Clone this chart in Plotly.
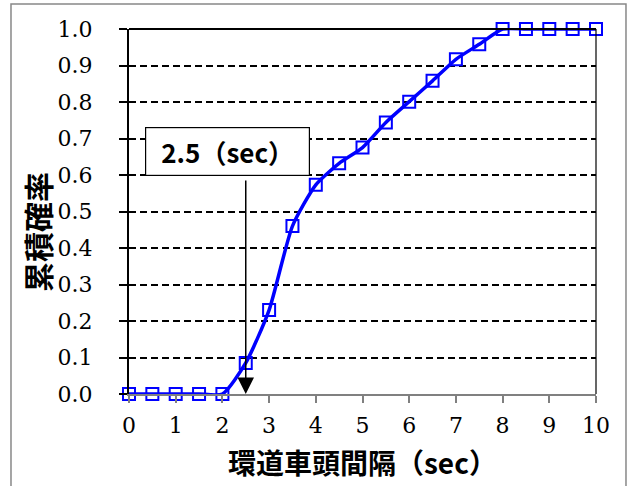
import plotly.graph_objects as go

# ---- data ----
headway_sec = [0, 0.5, 1, 1.5, 2, 2.5, 3, 3.5, 4, 4.5, 5, 5.5, 6, 6.5, 7, 7.5, 8, 8.5, 9, 9.5, 10]
cum_prob = [0, 0, 0, 0, 0, 0.085, 0.23, 0.46, 0.573, 0.632, 0.675, 0.744, 0.801, 0.858,
            0.917, 0.958, 1.0, 1.0, 1.0, 1.0, 1.0]
x_ticks = list(range(0, 11))
y_ticks = [round(i * 0.1, 1) for i in range(11)]
marker_value = 2.5
marker_label = "2.5（sec）"
x_title = "環道車頭間隔（sec）"
y_title = "累積確率"

SERIF = "DejaVu Serif, serif"
GOTHIC = "Noto Sans CJK JP"

fig = go.Figure()
fig.add_trace(go.Scatter(
    x=headway_sec, y=cum_prob, mode="lines+markers",
    line=dict(color="#0000FF", width=3.5, shape="spline", smoothing=0.6),
    marker=dict(symbol="square-open", size=12, color="#0000FF",
                line=dict(color="#0000FF", width=2)),
    cliponaxis=False, showlegend=False,
))

fig.update_layout(
    width=629, height=486,
    margin=dict(l=129, r=33, t=29, b=92),
    paper_bgcolor="white", plot_bgcolor="white",
    xaxis=dict(range=[0, 10], tickvals=x_ticks, showgrid=False, zeroline=False,
               showline=True, linecolor="#808080", linewidth=2,
               ticks="outside", ticklen=7, tickwidth=1.5, tickcolor="#808080",
               tickfont=dict(family=SERIF, size=22, color="black"),
               ticklabelstandoff=4),
    yaxis=dict(range=[0, 1], tickvals=y_ticks, tickformat=".1f",
               showgrid=True, gridcolor="black", gridwidth=1.5, griddash="7px,4px",
               zeroline=False, showline=True, linecolor="black", linewidth=2,
               ticks="outside", ticklen=8, tickwidth=1.5, tickcolor="black",
               tickfont=dict(family=SERIF, size=22, color="black"),
               ticklabelstandoff=22),
    shapes=[
        dict(type="line", xref="paper", yref="paper", x0=0, x1=1, y0=1, y1=1,
             line=dict(color="black", width=2)),
        dict(type="line", xref="paper", yref="paper", x0=1, x1=1, y0=0, y1=1,
             line=dict(color="black", width=1.2)),
        dict(type="rect", xref="paper", yref="paper", x0=-0.2527, x1=1.0642,
             y0=-0.27, y1=1.0685, line=dict(color="#888888", width=1.5)),
    ],
    annotations=[
        dict(x=marker_value, y=0, ax=marker_value, ay=0.589, xref="x", yref="y",
             axref="x", ayref="y", text="", showarrow=True, arrowhead=2,
             arrowsize=2.2, arrowwidth=1.5, arrowcolor="black"),
        dict(x=2.11, y=0.664, xref="x", yref="y", text=marker_label, showarrow=False,
             font=dict(family=GOTHIC, size=26, color="black", weight="bold"),
             bgcolor="white", bordercolor="black", borderwidth=1.2,
             width=161, height=45, xanchor="center", yanchor="middle"),
        dict(x=-0.197, y=0.444, xref="paper", yref="paper", text=y_title,
             textangle=-90, showarrow=False, xanchor="center", yanchor="middle",
             font=dict(family=GOTHIC, size=30, color="black", weight="bold")),
        dict(x=0.5, y=-0.186, xref="paper", yref="paper", text=x_title,
             showarrow=False, xanchor="center", yanchor="middle",
             font=dict(family=GOTHIC, size=28, color="black", weight="bold")),
    ],
)

fig.write_html("out.html", config={"displayModeBar": False},
               post_script="document.body.style.margin='0';document.body.style.overflow='hidden';")
